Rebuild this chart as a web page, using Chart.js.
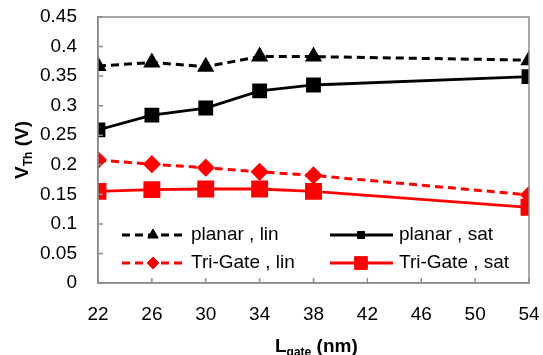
<!DOCTYPE html>
<html>
<head>
<meta charset="utf-8">
<script src="https://cdn.jsdelivr.net/npm/chart.js@4"></script>
<style>
  html, body { margin: 0; padding: 0; background: #fff; }
  canvas { display: block; }
</style>
</head>
<body>
<canvas id="vth" width="543" height="355"></canvas>
<script>
// gate lengths (nm)
var gateLength = [22, 26, 30, 34, 38, 54];

// threshold voltage (V)
var planarLin = [0.367, 0.373, 0.366, 0.383, 0.383, 0.377];
var planarSat = [0.259, 0.284, 0.296, 0.325, 0.335, 0.349];
var triGateLin = [0.208, 0.201, 0.195, 0.188, 0.182, 0.149];
var triGateSat = [0.155, 0.158, 0.159, 0.159, 0.155, 0.128];

var seriesNames = ['planar , lin', 'planar , sat', 'Tri-Gate , lin', 'Tri-Gate , sat'];

var FONT = '"Liberation Sans", Arial, sans-serif';

function pts(ys) {
    return gateLength.map(function (x, i) { return { x: x, y: ys[i] }; });
}

// frame, inside tick marks, legend and axis titles
var extras = {
    id: 'extras',
    afterDraw: function (chart) {
        var ctx = chart.ctx;
        var a = chart.chartArea;
        var xs = chart.scales.x, ys = chart.scales.y;
        ctx.save();

        // tick marks pointing into the plot
        ctx.strokeStyle = '#8c8c8c';
        ctx.lineWidth = 1.5;
        ctx.beginPath();
        xs.ticks.forEach(function (t) {
            var px = xs.getPixelForValue(t.value);
            ctx.moveTo(px, a.bottom);
            ctx.lineTo(px, a.bottom - 5);
        });
        ys.ticks.forEach(function (t) {
            var py = ys.getPixelForValue(t.value);
            ctx.moveTo(a.left, py);
            ctx.lineTo(a.left + 5, py);
        });
        ctx.stroke();

        // plot frame
        ctx.strokeRect(a.left, a.top, a.right - a.left, a.bottom - a.top);

        // legend (two columns inside the plot)
        var cols = [a.left + 24, a.left + 232];
        var rows = [a.bottom - 48, a.bottom - 20];
        var legendSize = [6, 5, 6, 9];
        chart.data.datasets.forEach(function (ds, i) {
            var lx = cols[i % 2], ly = rows[Math.floor(i / 2)];
            ctx.strokeStyle = ds.borderColor;
            ctx.fillStyle = ds.backgroundColor;
            ctx.lineWidth = ds.borderWidth;
            ctx.setLineDash(ds.borderDash || []);
            ctx.beginPath();
            ctx.moveTo(lx, ly);
            ctx.lineTo(lx + 63, ly);
            ctx.stroke();
            ctx.setLineDash([]);
            ctx.lineWidth = 1;
            Chart.helpers.drawPoint(ctx, {
                pointStyle: ds.pointStyle,
                radius: legendSize[i],
                rotation: 0,
                borderWidth: 1
            }, lx + 31, ly);
            ctx.fillStyle = '#000';
            ctx.font = '19px ' + FONT;
            ctx.textAlign = 'left';
            ctx.textBaseline = 'middle';
            ctx.fillText(ds.label, lx + 69, ly);
        });

        // x title: L_gate (nm)
        ctx.fillStyle = '#000';
        ctx.textBaseline = 'alphabetic';
        ctx.textAlign = 'left';
        var bx = 275, by = 352;
        ctx.font = 'bold 19px ' + FONT;
        ctx.fillText('L', bx, by);
        var w = ctx.measureText('L').width;
        ctx.font = 'bold 12px ' + FONT;
        ctx.fillText('gate', bx + w, by + 4);
        w += ctx.measureText('gate').width;
        ctx.font = 'bold 19px ' + FONT;
        ctx.fillText(' (nm)', bx + w, by);

        // y title: V_Th (V)
        ctx.translate(28, 150);
        ctx.rotate(-Math.PI / 2);
        ctx.font = 'bold 19px ' + FONT;
        var t1 = ctx.measureText('V').width;
        ctx.font = 'bold 12px ' + FONT;
        var t2 = ctx.measureText('Th').width;
        ctx.font = 'bold 19px ' + FONT;
        var t3 = ctx.measureText(' (V)').width;
        var sx = -(t1 + t2 + t3) / 2;
        ctx.fillText('V', sx, 0);
        ctx.font = 'bold 12px ' + FONT;
        ctx.fillText('Th', sx + t1, 4);
        ctx.font = 'bold 19px ' + FONT;
        ctx.fillText(' (V)', sx + t1 + t2, 0);

        ctx.restore();
    }
};

new Chart(document.getElementById('vth'), {
    type: 'line',
    data: {
        datasets: [
            {
                label: seriesNames[0], data: pts(planarLin),
                borderColor: '#000', backgroundColor: '#000',
                borderWidth: 3, borderDash: [8, 5],
                pointStyle: 'triangle', pointRadius: 7
            },
            {
                label: seriesNames[1], data: pts(planarSat),
                borderColor: '#000', backgroundColor: '#000',
                borderWidth: 2.8,
                pointStyle: 'rect', pointRadius: 8.5
            },
            {
                label: seriesNames[2], data: pts(triGateLin),
                borderColor: '#ff0000', backgroundColor: '#ff0000',
                borderWidth: 3, borderDash: [8, 5],
                pointStyle: 'rectRot', pointRadius: 7
            },
            {
                label: seriesNames[3], data: pts(triGateSat),
                borderColor: '#ff0000', backgroundColor: '#ff0000',
                borderWidth: 2.8,
                pointStyle: 'rect', pointRadius: 10
            }
        ]
    },
    options: {
        responsive: false,
        animation: false,
        devicePixelRatio: 1,
        layout: { padding: { left: 0, top: 17, right: 14, bottom: 0 } },
        plugins: {
            legend: { display: false },
            tooltip: { enabled: false }
        },
        scales: {
            x: {
                type: 'linear',
                min: 22, max: 54,
                ticks: {
                    stepSize: 4, padding: 20, maxRotation: 0, autoSkip: false,
                    color: '#000', font: { family: FONT, size: 19 }
                },
                grid: { display: false, drawTicks: false },
                border: { color: '#8c8c8c', width: 1.5 },
                afterFit: function (s) { s.height = 72; s.paddingLeft = 0; s.paddingRight = 0; }
            },
            y: {
                min: 0, max: 0.45,
                ticks: {
                    stepSize: 0.05, padding: 21, color: '#000', autoSkip: false,
                    font: { family: FONT, size: 19 },
                    callback: function (v) { return +v.toFixed(2); }
                },
                grid: { display: false, drawTicks: false },
                border: { color: '#8c8c8c', width: 1.5 },
                afterFit: function (s) { s.width = 98; s.paddingTop = 0; s.paddingBottom = 0; }
            }
        }
    },
    plugins: [extras]
});
</script>
</body>
</html>
